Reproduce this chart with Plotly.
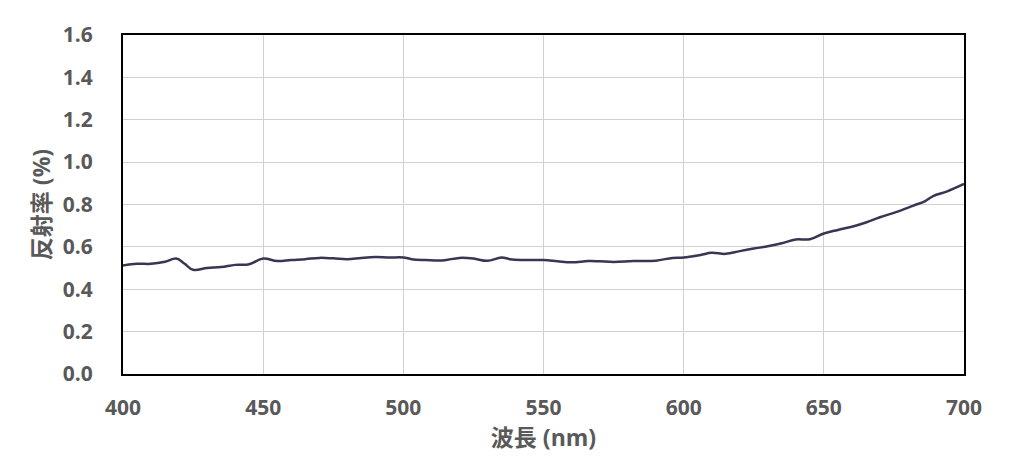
import plotly.graph_objects as go

wavelength = [400, 405, 410, 415, 419, 422, 425, 430, 435, 440, 445, 450, 455, 460, 465,
              470, 475, 480, 485, 490, 495, 500, 503, 508, 514, 520, 525, 530, 535, 538,
              542, 550, 555, 560, 566, 570, 575, 582, 590, 596, 600, 606, 610, 615, 620,
              625, 630, 635, 640, 645, 650, 655, 660, 665, 670, 676, 682, 686, 689, 694, 700]
reflectance = [0.512, 0.52, 0.52, 0.53, 0.545, 0.52, 0.492, 0.5, 0.505, 0.515, 0.518, 0.545,
               0.533, 0.538, 0.542, 0.548, 0.546, 0.542, 0.548, 0.552, 0.55, 0.55, 0.542,
               0.538, 0.536, 0.548, 0.545, 0.534, 0.55, 0.542, 0.538, 0.538, 0.532, 0.527,
               0.533, 0.532, 0.529, 0.533, 0.535, 0.548, 0.55, 0.562, 0.572, 0.567, 0.58,
               0.592, 0.603, 0.617, 0.635, 0.636, 0.663, 0.68, 0.695, 0.715, 0.74, 0.765,
               0.795, 0.815, 0.84, 0.862, 0.897]

x_ticks = [400, 450, 500, 550, 600, 650, 700]
y_ticks = [0.0, 0.2, 0.4, 0.6, 0.8, 1.0, 1.2, 1.4, 1.6]
y_tick_text = ["0.0", "0.2", "0.4", "0.6", "0.8", "1.0", "1.2", "1.4", "1.6"]

fig = go.Figure()
fig.add_trace(go.Scatter(x=wavelength, y=reflectance, mode="lines",
                         line=dict(color="#3d3352", width=2.5, shape="spline", smoothing=1.1),
                         showlegend=False))

font_family = "Open Sans, Noto Sans CJK JP, sans-serif"
fig.update_layout(
    width=1024, height=472,
    margin=dict(l=115, r=68, t=19, b=106),
    paper_bgcolor="white", plot_bgcolor="white",
    font=dict(family=font_family, color="#595959"),
)
fig.update_xaxes(
    range=[400, 700], tickvals=x_ticks,
    tickfont=dict(size=21, color="#595959", family=font_family, weight="bold"),
    ticklabelstandoff=14,
    showgrid=True, gridcolor="#d0d0d0", gridwidth=1,
    showline=True, linecolor="black", linewidth=2, mirror=True,
    ticks="", zeroline=False,
    title=dict(text="<b>波長 (nm)</b>", font=dict(size=23, color="#595959"), standoff=10),
)
fig.update_yaxes(
    range=[0, 1.6], tickvals=y_ticks, ticktext=y_tick_text,
    tickfont=dict(size=21, color="#595959", family=font_family, weight="bold"),
    ticklabelstandoff=24,
    showgrid=True, gridcolor="#d0d0d0", gridwidth=1,
    showline=True, linecolor="black", linewidth=2, mirror=True,
    ticks="", zeroline=False,
    title=dict(text="<b>反射率 (%)</b>", font=dict(size=23, color="#595959"), standoff=6),
)

fig.write_html("out.html")
